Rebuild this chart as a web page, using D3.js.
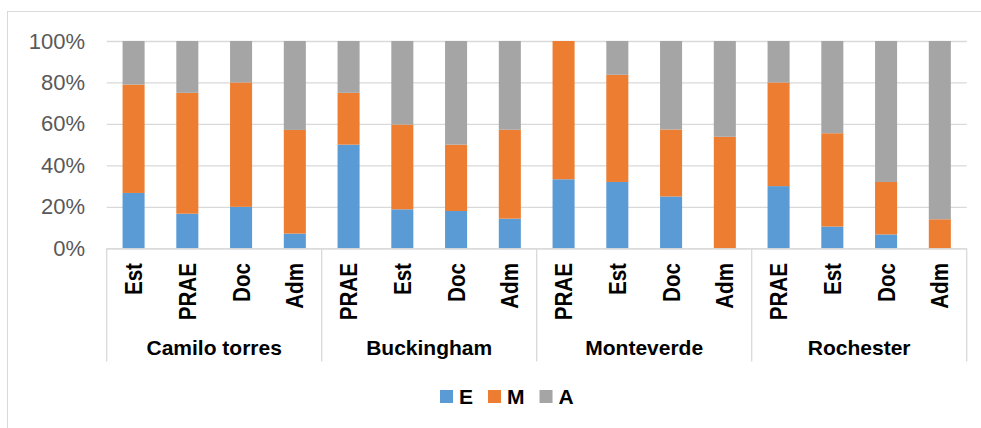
<!DOCTYPE html>
<html>
<head>
<meta charset="utf-8">
<script src="https://cdn.jsdelivr.net/npm/d3@7"></script>
<style>
  body { margin: 0; background: #fff; }
  text { font-family: "Liberation Sans", Arial, sans-serif; }
</style>
</head>
<body>
<script>
// the data (percent of each bar)
var groups = ["Camilo torres", "Buckingham", "Monteverde", "Rochester"];
var roles = [
  ["Est", "PRAE", "Doc", "Adm"],
  ["PRAE", "Est", "Doc", "Adm"],
  ["PRAE", "Est", "Doc", "Adm"],
  ["PRAE", "Est", "Doc", "Adm"]
];
var valuesE = [26.7, 16.7, 20, 7.1, 50, 18.8, 18, 14.3, 33.3, 32, 25, 0, 30, 10.5, 6.7, 0];
var valuesM = [52.3, 58.3, 60, 50, 25, 40.9, 32, 42.9, 66.7, 51.7, 32.3, 53.8, 50, 45, 25.3, 14];
var valuesA = [21, 25, 20, 42.9, 25, 40.3, 50, 42.8, 0, 16.3, 42.7, 46.2, 20, 44.5, 68, 86];
var seriesNames = ["E", "M", "A"];
var yTicks = [0, 20, 40, 60, 80, 100];

var colors = {E: "#5B9BD5", M: "#ED7D31", A: "#A5A5A5"};

// set the dimensions of the graph
var W = 981, H = 428;
var margin = {top: 41, left: 106.7, right: 14.3},
    width = W - margin.left - margin.right,
    height = 248.3 - margin.top;

var svg = d3.select('body')
  .append("svg")
    .attr("width", W)
    .attr("height", H);

// chart frame
svg.append("rect")
  .attr("x", 7.5).attr("y", 11.5)
  .attr("width", W + 20).attr("height", H + 20)
  .attr("fill", "#fff")
  .attr("stroke", "#d9d9d9");

var g = svg.append("g")
  .attr("transform", "translate(" + margin.left + "," + margin.top + ")");

// build rows from the arrays
var rows = [];
groups.forEach(function(grp, gi) {
  roles[gi].forEach(function(r) {
    var i = rows.length;
    rows.push({key: grp + "|" + r, group: grp, role: r, E: valuesE[i], M: valuesM[i], A: valuesA[i]});
  });
});

var xscale = d3.scaleBand()
  .range([0, width])
  .domain(rows.map(function(d) { return d.key; }));

var gscale = d3.scaleBand()
  .range([0, width])
  .domain(groups);

var yscale = d3.scaleLinear()
  .range([height, 0])
  .domain([0, 100]);

// gridlines + y labels
g.append("g")
  .call(d3.axisLeft(yscale).tickValues(yTicks).tickSize(-width).tickFormat(function(d) { return d + "%"; }))
  .call(function(a) {
    a.select(".domain").remove();
    a.selectAll(".tick line").attr("stroke", "#d9d9d9").attr("stroke-width", 1.3);
    a.selectAll(".tick text")
      .attr("x", 85 - margin.left)
      .attr("fill", "#595959")
      .style("font-size", "22px");
  });

// stacked bars
var stack = d3.stack().keys(seriesNames)(rows);
var barW = xscale.bandwidth() * 0.41;

g.append("g").selectAll("g")
  .data(stack)
  .join("g")
    .attr("fill", function(s) { return colors[s.key]; })
  .selectAll("rect")
  .data(function(s) { return s; })
  .join("rect")
    .attr("x", function(d) { return xscale(d.data.key) + (xscale.bandwidth() - barW) / 2; })
    .attr("y", function(d) { return yscale(d[1]); })
    .attr("width", barW)
    .attr("height", function(d) { return yscale(d[0]) - yscale(d[1]); });

// category axis line and group dividers
var axisBottom = 361.5 - margin.top;
g.append("line")
  .attr("x1", 0).attr("x2", width)
  .attr("y1", height + 0.5).attr("y2", height + 0.5)
  .attr("stroke", "#d9d9d9").attr("stroke-width", 1.3);

g.append("g").selectAll("line")
  .data(groups.concat(["end"]))
  .join("line")
    .attr("x1", function(d) { return d === "end" ? width : gscale(d); })
    .attr("x2", function(d) { return d === "end" ? width : gscale(d); })
    .attr("y1", height)
    .attr("y2", axisBottom)
    .attr("stroke", "#d9d9d9").attr("stroke-width", 1.3);

// rotated role labels (a bit condensed like the original)
g.append("g").selectAll("text")
  .data(rows)
  .join("text")
    .attr("transform", function(d) {
      return "translate(" + (xscale(d.key) + xscale.bandwidth() / 2) + "," + (263 - margin.top) + ") rotate(-90) scale(0.86,1)";
    })
    .attr("text-anchor", "end")
    .attr("dy", "0.36em")
    .style("font-size", "24px")
    .style("font-weight", "bold")
    .attr("fill", "#000")
    .text(function(d) { return d.role; });

// group labels
g.append("g").selectAll("text")
  .data(groups)
  .join("text")
    .attr("x", function(d) { return gscale(d) + gscale.bandwidth() / 2; })
    .attr("y", 355 - margin.top)
    .attr("text-anchor", "middle")
    .style("font-size", "21px")
    .style("font-weight", "bold")
    .attr("fill", "#000")
    .text(function(d) { return d; });

// legend
var legend = svg.append("g");
var lx = 440;
seriesNames.forEach(function(name) {
  legend.append("rect")
    .attr("x", lx).attr("y", 390)
    .attr("width", 13).attr("height", 13)
    .attr("fill", colors[name]);
  var t = legend.append("text")
    .attr("x", lx + 19).attr("y", 403.5)
    .style("font-size", "21px")
    .style("font-weight", "bold")
    .attr("fill", "#000")
    .text(name);
  lx += 19 + t.node().getComputedTextLength() + 15;
});
</script>
</body>
</html>
